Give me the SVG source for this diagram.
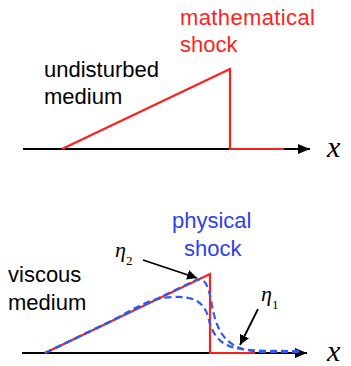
<svg xmlns="http://www.w3.org/2000/svg" width="351" height="366" viewBox="0 0 351 366">
<defs>
<marker id="ah" viewBox="0 0 10 10" refX="10" refY="5" markerWidth="10" markerHeight="10" markerUnits="userSpaceOnUse" orient="auto"><path d="M0,0 L10,5 L0,10 Z" fill="#000"/></marker>
<marker id="ax" viewBox="0 0 12 10" refX="12" refY="5" markerWidth="12" markerHeight="10" markerUnits="userSpaceOnUse" orient="auto"><path d="M0,0 L12,5 L0,10 Z" fill="#000"/></marker>
</defs>
<style>
.lbl{font-family:"Liberation Sans",Arial,sans-serif;font-size:22px}
.var{font-family:"Liberation Serif","Times New Roman",serif;font-style:italic}
.sub{font-family:"Liberation Serif","Times New Roman",serif;font-style:normal}
.axis{stroke:#000;stroke-width:1.8;fill:none}
.red{stroke:#ff1f1f;stroke-width:2.2;fill:none}
.blue{stroke:#2f5be8;stroke-width:2.2;fill:none;stroke-dasharray:7 4}
.arr{stroke:#000;stroke-width:1.8;fill:none}
</style>
<g id="connectors">
<line class="axis" x1="23" y1="149" x2="310" y2="149" marker-end="url(#ax)"/>
<polyline class="red" points="62,149 230,69 230,149 284,149"/>
<line class="axis" x1="22" y1="353" x2="307" y2="353" marker-end="url(#ax)"/>
<polyline class="red" points="45,353 210,274 210,353 255,353"/>
<path class="blue" d="M45,353 L196,280 C204,277 208,284 211,300 C214,318 218,332 228,341 C236,348 246,351 262,352 L300,352"/>
<path class="blue" d="M45,353 L112,321 C135,308 150,298 172,297 C195,296 203,302 208,316 C211,330 216,343 235,348 C250,351 270,351 300,351"/>
<line class="arr" x1="143" y1="260" x2="197" y2="278" marker-end="url(#ah)"/>
<line class="arr" x1="258" y1="309" x2="240" y2="345" marker-end="url(#ah)"/>
</g>
<g id="top-labels">
<text class="lbl" x="180" y="25" fill="#ff1f1f" textLength="135">mathematical</text>
<text class="lbl" x="180" y="52" fill="#ff1f1f">shock</text>
<text class="lbl" x="44" y="77" fill="#000">undisturbed</text>
<text class="lbl" x="44" y="104" fill="#000">medium</text>
<text class="var" x="327" y="157" font-size="30" fill="#000">x</text>
</g>
<g id="bottom-labels">
<text class="lbl" x="172" y="228" fill="#2f3fee">physical</text>
<text class="lbl" x="184" y="256" fill="#2f3fee">shock</text>
<text class="lbl" x="8" y="282" fill="#000">viscous</text>
<text class="lbl" x="8" y="310" fill="#000">medium</text>
<text class="var" x="115" y="257" font-size="22" fill="#000">η<tspan class="sub" font-size="13" dy="8">2</tspan></text>
<text class="var" x="261" y="301" font-size="22" fill="#000">η<tspan class="sub" font-size="13" dy="8">1</tspan></text>
<text class="var" x="327" y="361" font-size="30" fill="#000">x</text>
</g>
</svg>
